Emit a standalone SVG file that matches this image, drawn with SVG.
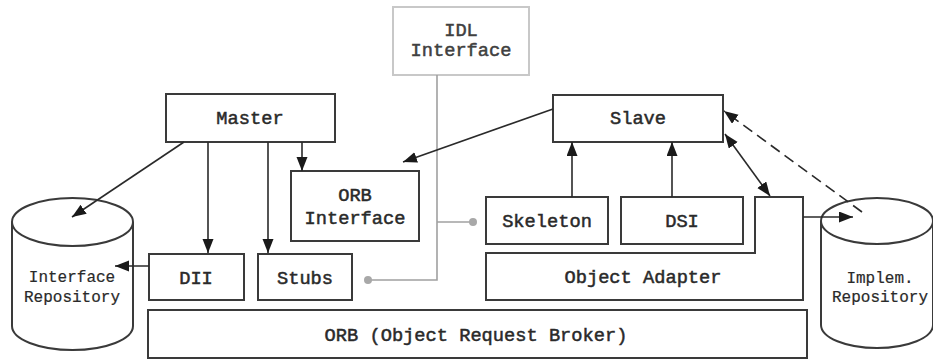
<svg xmlns="http://www.w3.org/2000/svg" width="933" height="360" viewBox="0 0 933 360">
  <style>
    .box { fill: #ffffff; stroke: #3a3a3a; stroke-width: 2; }
    .idl { fill: #ffffff; stroke: #c8c8c8; stroke-width: 2; }
    .lbl { font-family: "Liberation Mono", "Courier New", monospace; font-size: 18.7px; fill: #2a2a2a; stroke: #2a2a2a; stroke-width: 0.5; text-anchor: middle; }
    .sm { font-size: 16px; stroke-width: 0.2; }
    .idlt { fill: #404040; stroke: #404040; }
    .edge { fill: none; stroke: #2a2a2a; stroke-width: 1.6; }
    .dash { stroke-dasharray: 11 6; }
    .gray { fill: none; stroke: #a0a0a0; stroke-width: 1.6; }
    .dot { fill: #a8a8a8; }
  </style>
  <defs>
    <marker id="arrow" markerUnits="userSpaceOnUse" markerWidth="15" markerHeight="12" refX="14" refY="5.5" orient="auto-start-reverse">
      <path d="M0,0 L14,5.5 L0,11 Z" fill="#1a1a1a"/>
    </marker>
  </defs>

  <rect width="933" height="360" fill="#ffffff"/>

  <!-- IDL interface box; its grey attachment lines are with the connectors -->
  <g id="idl-interface">
    <rect class="idl" x="393" y="7" width="136" height="68"/>
    <text class="lbl idlt" x="461" y="36">IDL</text>
    <text class="lbl idlt" x="461" y="56">Interface</text>
  </g>

  <g id="master">
    <rect class="box" x="166" y="94" width="169" height="48"/>
    <text class="lbl" x="250" y="124">Master</text>
  </g>

  <g id="slave">
    <rect class="box" x="553" y="95" width="170" height="47"/>
    <text class="lbl" x="638" y="124">Slave</text>
  </g>

  <g id="orb-interface">
    <rect class="box" x="291" y="171" width="128" height="70"/>
    <text class="lbl" x="355" y="201">ORB</text>
    <text class="lbl" x="355" y="224">Interface</text>
  </g>

  <g id="skeleton">
    <rect class="box" x="486" y="197" width="122" height="47"/>
    <text class="lbl" x="547" y="227">Skeleton</text>
  </g>

  <g id="dsi">
    <rect class="box" x="621" y="197" width="122" height="47"/>
    <text class="lbl" x="682" y="227">DSI</text>
  </g>

  <g id="object-adapter">
    <polygon class="box" points="486,253 755,253 755,197 803,197 803,300 486,300"/>
    <text class="lbl" x="643" y="283">Object Adapter</text>
  </g>

  <g id="dii">
    <rect class="box" x="149" y="254" width="95" height="46"/>
    <text class="lbl" x="196" y="284">DII</text>
  </g>

  <g id="stubs">
    <rect class="box" x="258" y="254" width="94" height="46"/>
    <text class="lbl" x="305" y="284">Stubs</text>
  </g>

  <g id="orb">
    <rect class="box" x="148" y="310" width="659" height="48"/>
    <text class="lbl" x="476" y="341">ORB (Object Request Broker)</text>
  </g>

  <g id="interface-repository">
    <path class="box" d="M12,222 V326 A60.5,24 0 0 0 133,326 V222"/>
    <ellipse class="box" cx="72.5" cy="222" rx="60.5" ry="24"/>
    <text class="lbl sm" x="72" y="282">Interface</text>
    <text class="lbl sm" x="72" y="302">Repository</text>
  </g>

  <g id="implem-repository">
    <path class="box" d="M821,221 V325 A56,23 0 0 0 933,325 V221"/>
    <ellipse class="box" cx="877" cy="221" rx="56" ry="23"/>
    <text class="lbl sm" x="880" y="283">Implem.</text>
    <text class="lbl sm" x="880" y="302">Repository</text>
  </g>

  <g id="connectors">
    <!-- IDL interface attachments -->
    <path class="gray" d="M437,75 V280 H368"/>
    <path class="gray" d="M437,222 H473"/>
    <circle class="dot" cx="368" cy="280" r="4"/>
    <circle class="dot" cx="473" cy="222" r="4"/>

    <!-- master side -->
    <line class="edge" x1="184" y1="142" x2="72" y2="217" marker-end="url(#arrow)"/>
    <line class="edge" x1="208" y1="142" x2="208" y2="253" marker-end="url(#arrow)"/>
    <line class="edge" x1="268" y1="142" x2="268" y2="253" marker-end="url(#arrow)"/>
    <line class="edge" x1="302" y1="142" x2="302" y2="171" marker-end="url(#arrow)"/>
    <line class="edge" x1="149" y1="266" x2="115" y2="266" marker-end="url(#arrow)"/>

    <!-- slave side -->
    <line class="edge" x1="553" y1="109" x2="403" y2="162" marker-end="url(#arrow)"/>
    <line class="edge" x1="572" y1="197" x2="572" y2="142" marker-end="url(#arrow)"/>
    <line class="edge" x1="672" y1="197" x2="672" y2="142" marker-end="url(#arrow)"/>
    <line class="edge" x1="725" y1="134" x2="770" y2="196" marker-start="url(#arrow)" marker-end="url(#arrow)"/>
    <line class="edge" x1="803" y1="217" x2="853" y2="217" marker-end="url(#arrow)"/>
    <line class="edge dash" x1="862" y1="212" x2="724" y2="111" marker-end="url(#arrow)"/>
  </g>
</svg>
